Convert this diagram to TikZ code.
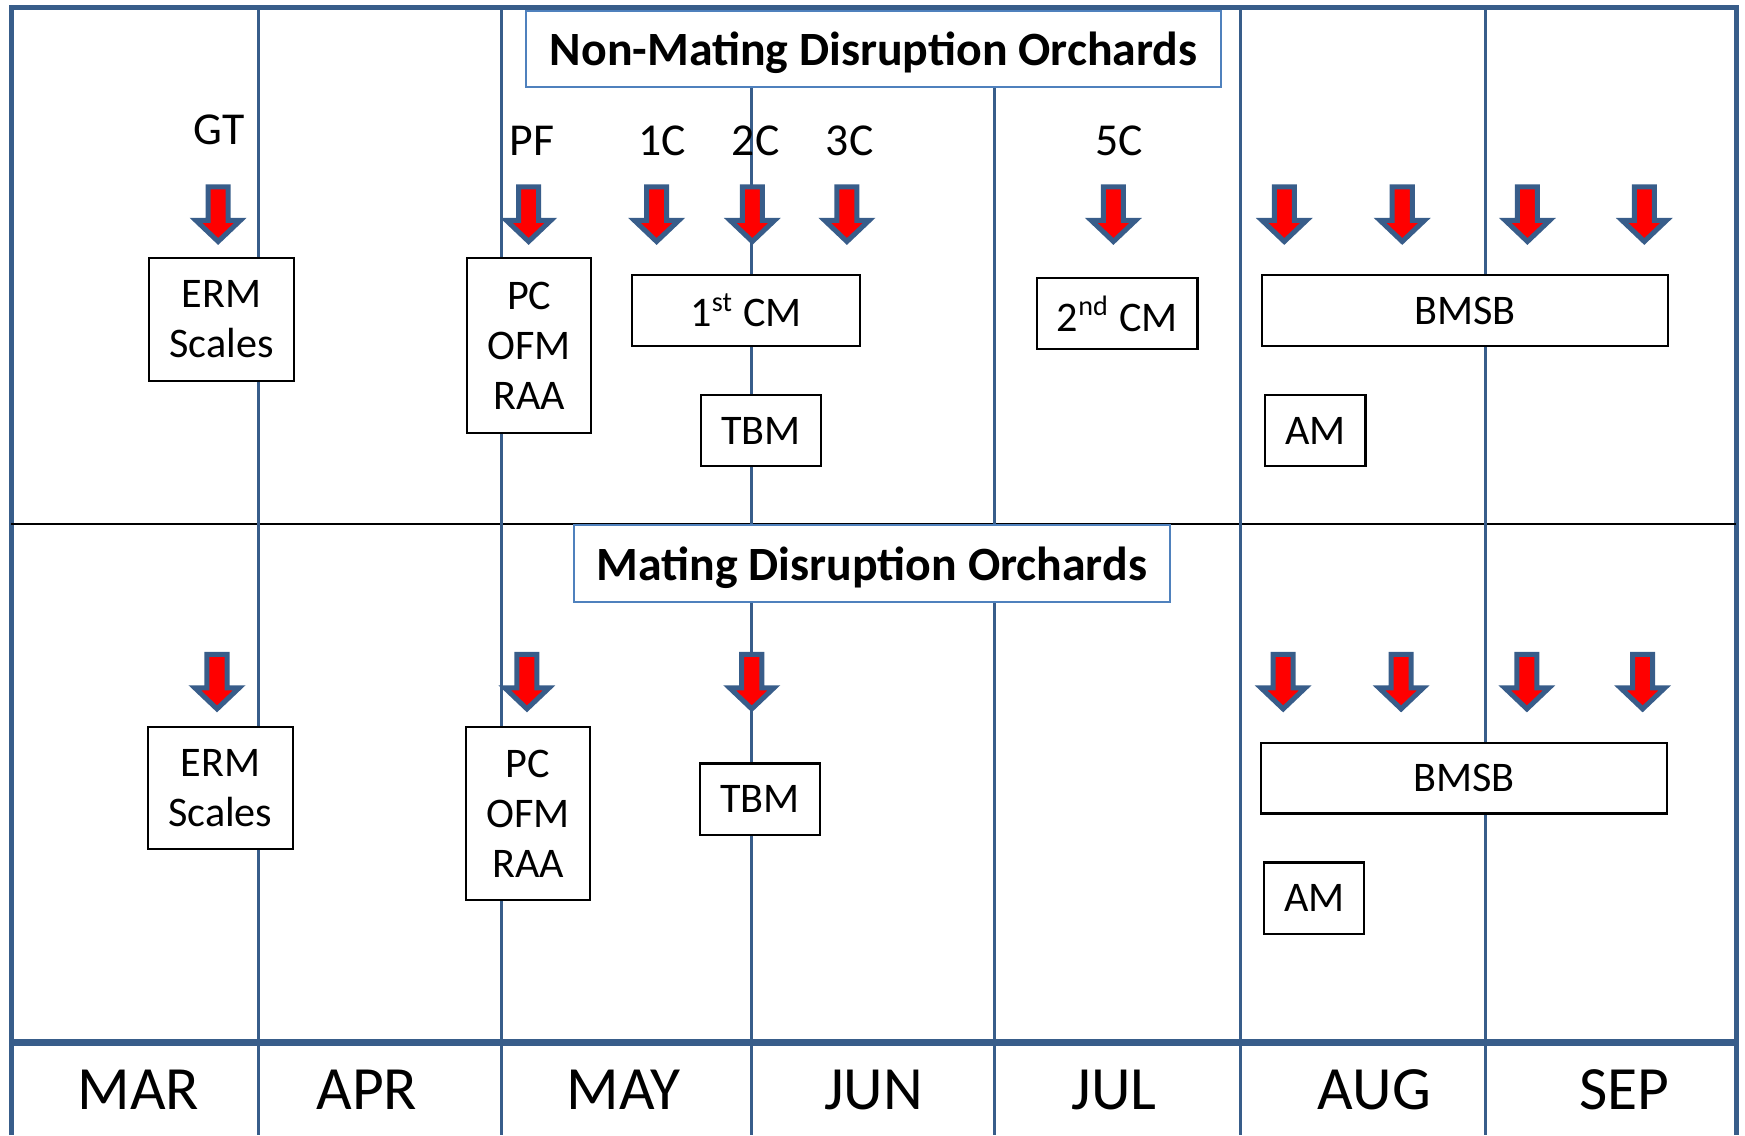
\documentclass[tikz,border=0pt]{standalone}
\usepackage{fontspec}
\setmainfont{Carlito}
\definecolor{gridblue}{RGB}{56,93,138}
\definecolor{titleblue}{RGB}{79,129,189}
\tikzset{
  task/.style={draw=black,line width=0.6pt,fill=white,align=center,inner sep=0pt,
    font=\fontsize{12}{14.2}\selectfont},
  title/.style={draw=titleblue,line width=0.6pt,fill=white,inner sep=0pt,text depth=0pt,
    font=\fontsize{13.6}{16}\selectfont\bfseries},
  stage/.style={anchor=base,font=\fontsize{13}{15}\selectfont},
  month/.style={anchor=base,font=\fontsize{17.5}{20}\selectfont},
  spray/.pic={\draw[gridblue,line width=0.5mm,fill=red,miter limit=4]
    (-9,2)--(9,2)--(9,32)--(20,32)--(0,51)--(-20,32)--(-9,32)--cycle;}
}
\begin{document}
\begin{tikzpicture}[x=0.11129mm,y=-0.11129mm]
\useasboundingbox (0,0) rectangle (1568,1020);
%frame
\draw[gridblue,line width=1.4pt](10,1020)--(10,7)--(1560,7)--(1560,1020);
\draw[black,line width=0.6pt](10,471)--(1560,471);
\foreach \x in {232,451,675,894,1115,1335}
  \draw[gridblue,line width=0.85pt](\x,7)--(\x,1020);
\draw[gridblue,line width=1.9pt](10,937)--(1560,937);
%months
\foreach \m/\x in {mar/124.5,apr/329.7,may/560.4,jun/785,jul/1001.3,aug/1235,sep/1459.5}
  \node[month](\m) at (\x,997){\MakeUppercase{\m}};
%headings
\node[title,minimum width=69.44mm,minimum height=7.57mm](nomd) at (785,44){Non-Mating Disruption Orchards};
\node[title,minimum width=59.54mm,minimum height=7.68mm](md) at (783.5,506.5){Mating Disruption Orchards};
%stages
\node[stage](gt) at (197,130){GT};
\node[stage](pf) at (478,139.3){PF};
\node[stage](c1) at (595,139.3){1C};
\node[stage](c2) at (679,139.3){2C};
\node[stage](c3) at (763.5,139.3){3C};
\node[stage](c5) at (1005.3,139.3){5C};
%sprays, non-mating disruption
\foreach \x in {196,475,590,676,761,1000.5,1154,1260,1372.5,1477.5}
  \pic at (\x,166){spray};
%sprays, mating disruption
\foreach \x in {195,473.5,675.5,1153,1259,1372,1476}
  \pic at (\x,586){spray};
%pests, non-mating disruption
\node[task,minimum width=14.47mm,minimum height=12.24mm](erma) at (199,287){ERM\\Scales};
\node[task,minimum width=12.35mm,minimum height=17.47mm](pca) at (475.5,310.5){PC\\OFM\\RAA};
\node[task,minimum width=22.81mm,minimum height=7.12mm](cma) at (670.5,279){1\textsuperscript{st} CM};
\node[task,minimum width=12.02mm,minimum height=7.12mm](tbma) at (684,387){TBM};
\node[task,minimum width=16.03mm,minimum height=7.12mm](cmb) at (1004,282){2\textsuperscript{nd} CM};
\node[task,minimum width=40.62mm,minimum height=7.12mm](bmsba) at (1316.5,279){BMSB};
\node[task,minimum width=10.02mm,minimum height=7.12mm](ama) at (1182,387){AM};
%pests, mating disruption
\node[task,minimum width=14.47mm,minimum height=12.24mm](ermb) at (198,708){ERM\\Scales};
\node[task,minimum width=12.35mm,minimum height=17.36mm](pcb) at (474.5,731){PC\\OFM\\RAA};
\node[task,minimum width=12.02mm,minimum height=7.12mm](tbmb) at (683,718){TBM};
\node[task,minimum width=40.62mm,minimum height=7.01mm](bmsbb) at (1315.5,699.5){BMSB};
\node[task,minimum width=10.02mm,minimum height=7.12mm](amb) at (1181,807){AM};
\end{tikzpicture}
\end{document}
